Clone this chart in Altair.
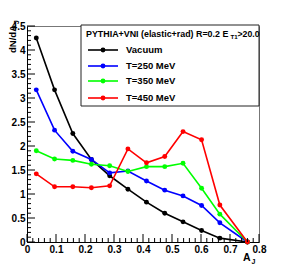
import altair as alt
import pandas as pd

# ---- data ----
aj = [0.032, 0.095, 0.158, 0.222, 0.285, 0.348, 0.412, 0.475, 0.538, 0.602, 0.665, 0.76]
vacuum = [4.25, 3.17, 2.26, 1.72, 1.38, 1.10, 0.83, 0.60, 0.42, 0.24, 0.08, 0.0]
t250 = [3.17, 2.33, 1.89, 1.72, 1.44, 1.48, 1.27, 1.08, 0.96, 0.76, 0.40, 0.0]
t350 = [1.90, 1.73, 1.70, 1.62, 1.59, 1.47, 1.57, 1.57, 1.64, 1.12, 0.58, 0.0]
t450 = [1.42, 1.15, 1.15, 1.13, 1.17, 1.94, 1.65, 1.78, 2.30, 2.13, 0.77, 0.0]

series_names = ["Vacuum", "T=250 MeV", "T=350 MeV", "T=450 MeV"]
series_values = [vacuum, t250, t350, t450]
series_colors = ["#000000", "#0000ff", "#00ff00", "#ff0000"]

x_major = [0, 0.1, 0.2, 0.3, 0.4, 0.5, 0.6, 0.7, 0.8]
y_major = [0, 0.5, 1, 1.5, 2, 2.5, 3, 3.5, 4, 4.5]
x_minor = [round(i * 0.02, 2) for i in range(41) if i % 5]
y_minor = [round(i * 0.1, 2) for i in range(46) if i % 5]

header_main = "PYTHIA+VNI (elastic+rad) R=0.2 E"
header_sub = "T1"
header_tail = ">20.0"

FONT = "Liberation Sans"
W, H = 232, 216

xs = alt.Scale(domain=[0, 0.8], nice=False, zero=False)
ys = alt.Scale(domain=[0, 4.5], nice=False, zero=False)

xa = alt.Axis(values=x_major, ticks=False, grid=False, title=None,
              labelExpr="datum.value == 0 ? '0' : format(datum.value, '.1f')",
              labelFont=FONT, labelFontWeight="bold", labelFontSize=10,
              labelColor="#000", labelPadding=2, domainColor="#000",
              labelFlush=False, labelOverlap=False)
ya = alt.Axis(values=y_major, ticks=False, grid=False, title=None,
              labelExpr="format(datum.value, '~g')",
              labelFont=FONT, labelFontWeight="bold", labelFontSize=10,
              labelColor="#000", labelPadding=2, domainColor="#000",
              labelFlush=False, labelOverlap=False)

layers = []

for name, vals, col in zip(series_names, series_values, series_colors):
    df = pd.DataFrame({"aj": aj, "v": vals})
    layers.append(
        alt.Chart(df).mark_line(color=col, strokeWidth=1.6,
                                point=alt.OverlayMarkDef(color=col, filled=True, size=24, opacity=1))
        .encode(x=alt.X("aj:Q", scale=xs, axis=xa), y=alt.Y("v:Q", scale=ys, axis=ya))
    )

# inward ticks
layers.append(alt.Chart(pd.DataFrame({"t": y_major})).mark_rule(color="#000", strokeWidth=1)
              .encode(y=alt.Y("t:Q", scale=ys, axis=ya), x=alt.value(0), x2=alt.value(8)))
layers.append(alt.Chart(pd.DataFrame({"t": y_minor})).mark_rule(color="#000", strokeWidth=1)
              .encode(y=alt.Y("t:Q", scale=ys, axis=ya), x=alt.value(0), x2=alt.value(4)))
layers.append(alt.Chart(pd.DataFrame({"t": x_major})).mark_rule(color="#000", strokeWidth=1)
              .encode(x=alt.X("t:Q", scale=xs, axis=xa), y=alt.value(H), y2=alt.value(H - 8)))
layers.append(alt.Chart(pd.DataFrame({"t": x_minor})).mark_rule(color="#000", strokeWidth=1)
              .encode(x=alt.X("t:Q", scale=xs, axis=xa), y=alt.value(H), y2=alt.value(H - 4)))

one = pd.DataFrame({"a": [1]})

# legend box
layers.append(alt.Chart(one).mark_rect(fill="white", stroke="#222", strokeWidth=1)
              .encode(x=alt.value(54), x2=alt.value(232), y=alt.value(-1), y2=alt.value(80)))
# header
layers.append(alt.Chart(one).mark_text(font=FONT, fontWeight="bold", fontSize=8.9, align="left",
                                       baseline="alphabetic", color="#000")
              .encode(x=alt.value(59), y=alt.value(11), text=alt.value(header_main)))
layers.append(alt.Chart(one).mark_text(font=FONT, fontWeight="bold", fontSize=6.2, align="left",
                                       baseline="alphabetic", color="#000")
              .encode(x=alt.value(203.5), y=alt.value(13), text=alt.value(header_sub)))
layers.append(alt.Chart(one).mark_text(font=FONT, fontWeight="bold", fontSize=8.7, align="left",
                                       baseline="alphabetic", color="#000")
              .encode(x=alt.value(210.5), y=alt.value(11), text=alt.value(header_tail)))

row_y = [24, 40, 55, 72]
for name, col, ry in zip(series_names, series_colors, row_y):
    layers.append(alt.Chart(one).mark_rule(color=col, strokeWidth=1.6)
                  .encode(x=alt.value(61), x2=alt.value(91), y=alt.value(ry)))
    layers.append(alt.Chart(one).mark_point(color=col, filled=True, size=24, opacity=1)
                  .encode(x=alt.value(76), y=alt.value(ry)))
    layers.append(alt.Chart(one).mark_text(font=FONT, fontWeight="bold", fontSize=9.5, align="left",
                                           baseline="middle", color="#000")
                  .encode(x=alt.value(99), y=alt.value(ry), text=alt.value(name)))

# axis titles
layers.append(alt.Chart(one).mark_text(font=FONT, fontWeight="bold", fontSize=9.5, align="right",
                                       baseline="alphabetic", angle=270, color="#000")
              .encode(x=alt.value(-11), y=alt.value(-1), text=alt.value("dN/dA")))
layers.append(alt.Chart(one).mark_text(font=FONT, fontWeight="bold", fontSize=6.5, align="left",
                                       baseline="alphabetic", angle=270, color="#000")
              .encode(x=alt.value(-8), y=alt.value(-2), text=alt.value("J")))
layers.append(alt.Chart(one).mark_text(font=FONT, fontWeight="bold", fontSize=10.5, align="left",
                                       baseline="alphabetic", color="#000")
              .encode(x=alt.value(216), y=alt.value(235), text=alt.value("A")))
layers.append(alt.Chart(one).mark_text(font=FONT, fontWeight="bold", fontSize=7, align="left",
                                       baseline="alphabetic", color="#000")
              .encode(x=alt.value(224.5), y=alt.value(238), text=alt.value("J")))

chart = alt.layer(*layers).properties(
    width=W, height=H,
    autosize=alt.AutoSizeParams(type="none"),
    padding={"left": 19, "top": 18, "right": 20, "bottom": 24},
    background="white",
).configure_view(stroke="#777", strokeWidth=1)

chart.save("out.html", embed_options={"renderer": "svg", "actions": False})
